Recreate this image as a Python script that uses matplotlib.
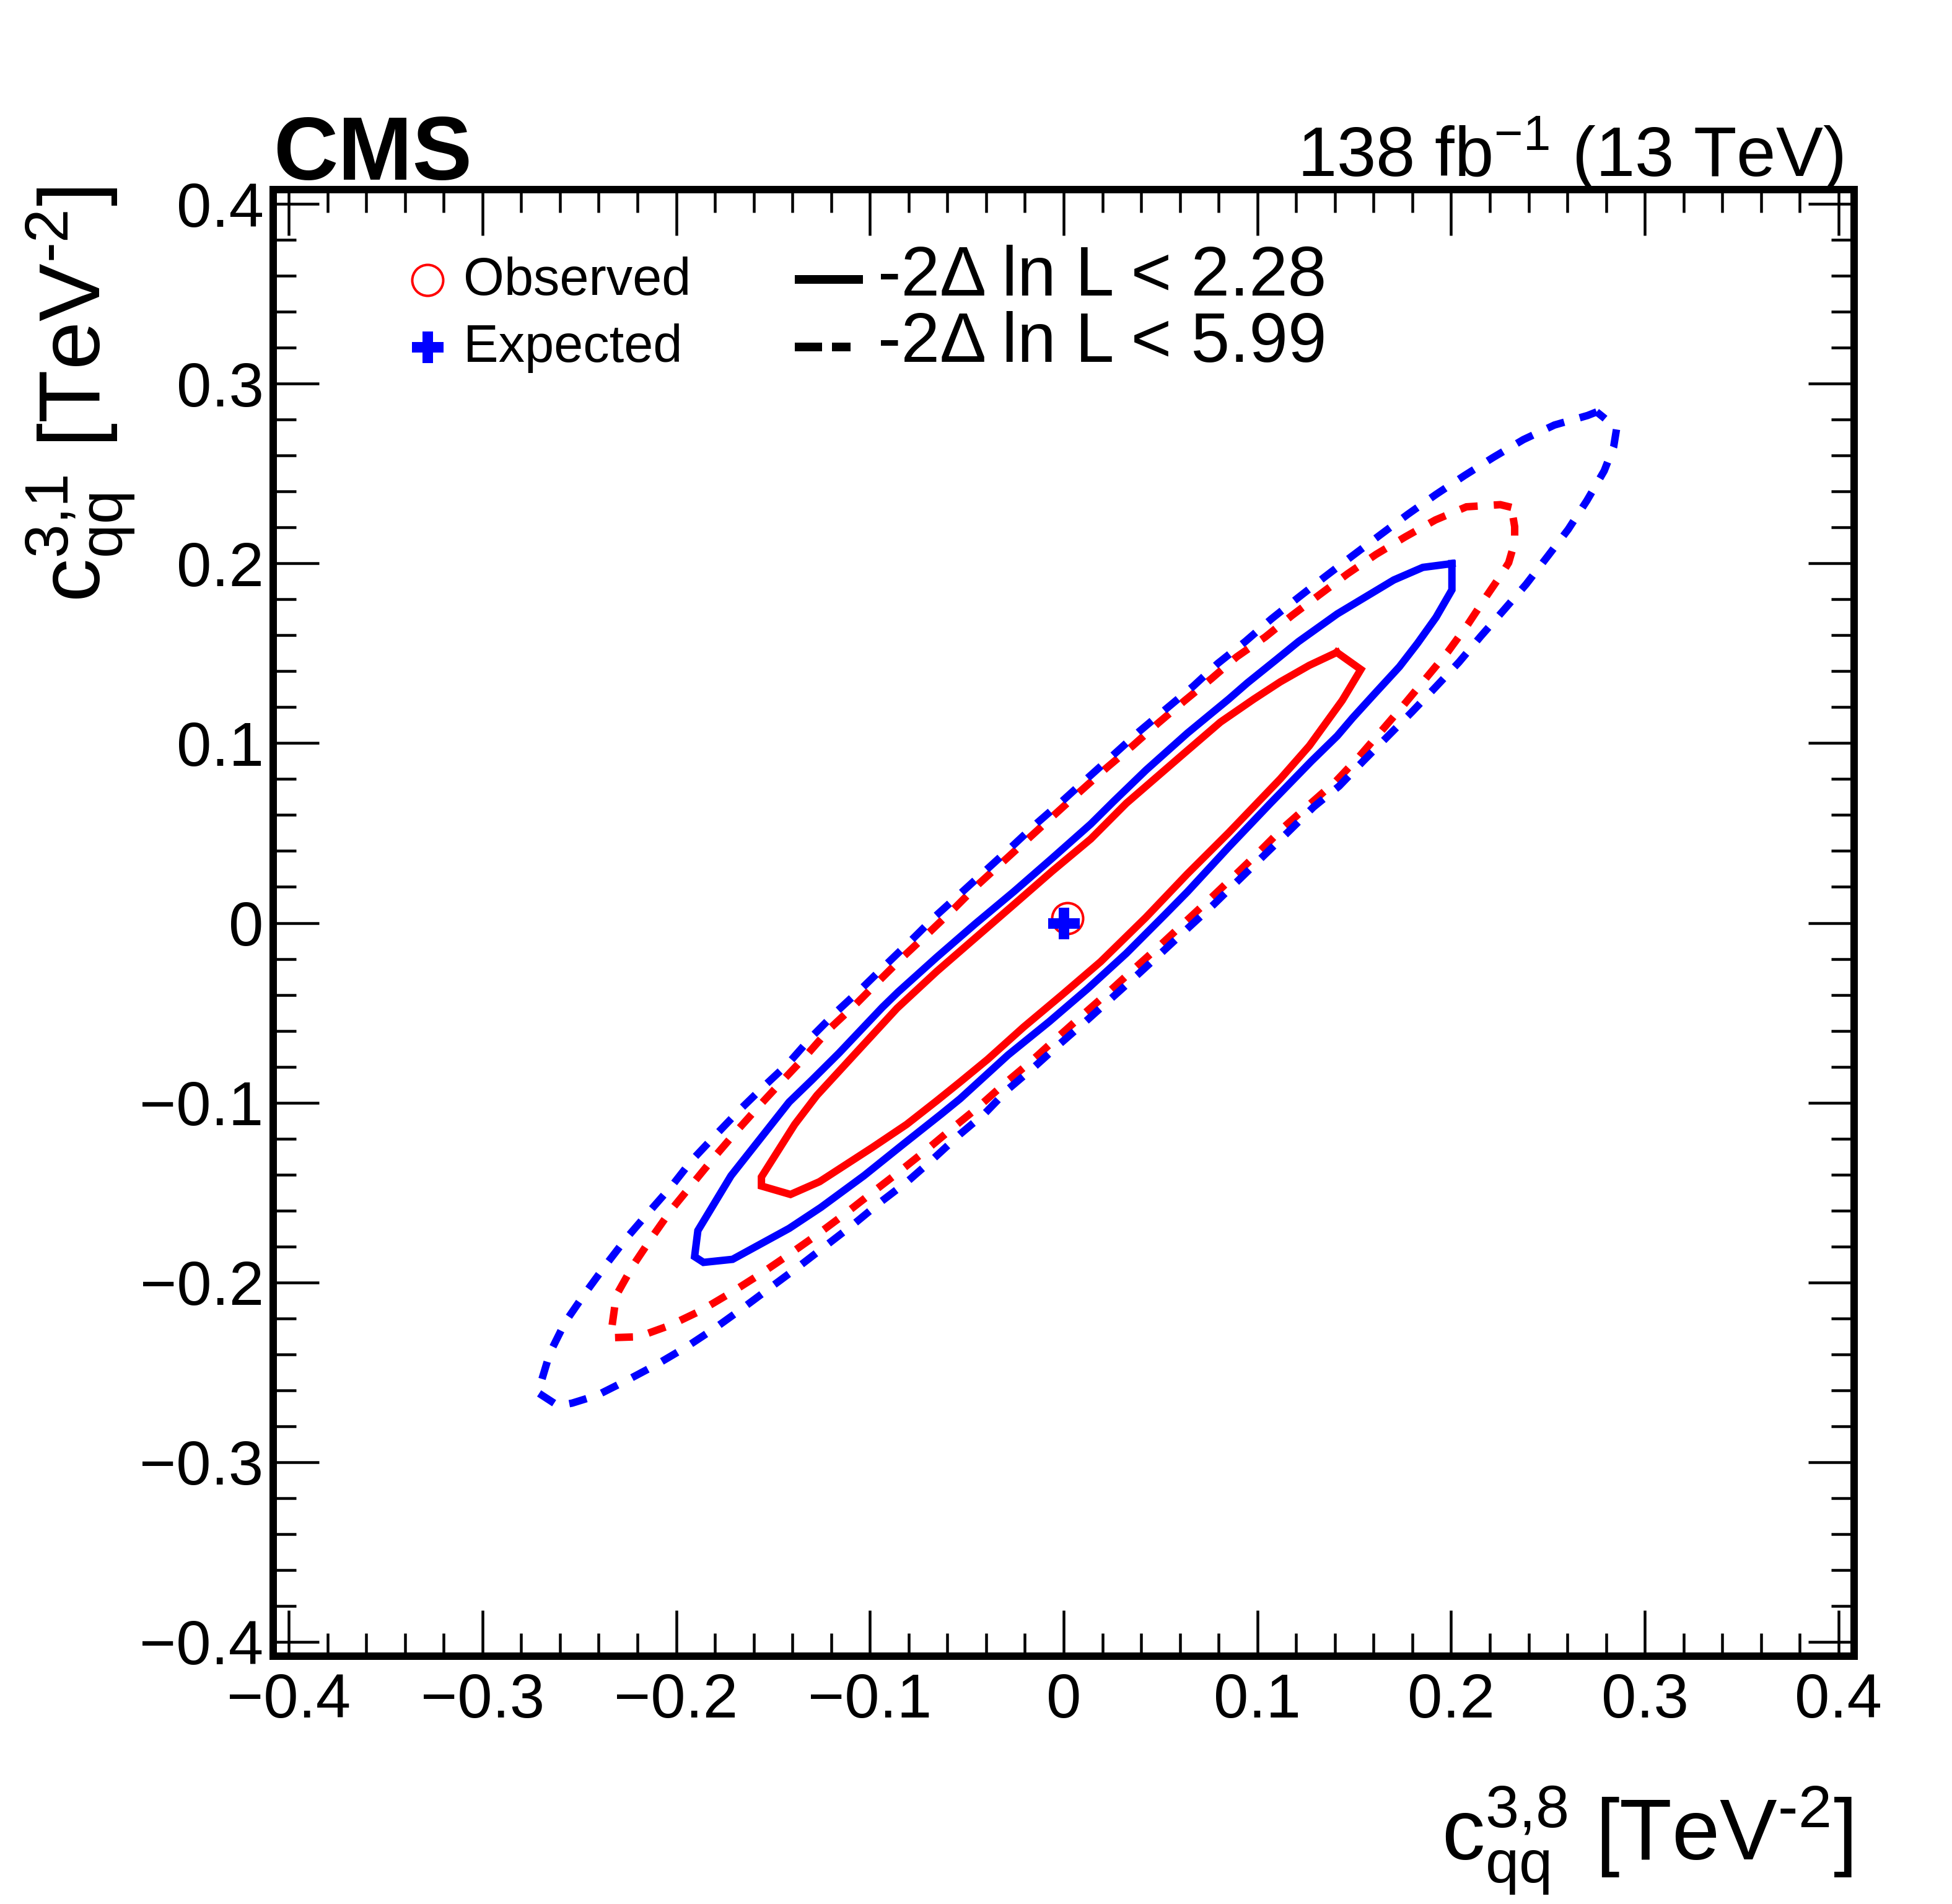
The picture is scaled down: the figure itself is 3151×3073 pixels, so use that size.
import matplotlib
matplotlib.use("Agg")
import matplotlib.pyplot as plt
from matplotlib.lines import Line2D
from matplotlib.ticker import MultipleLocator

plt.rcParams['font.family'] = ['Liberation Sans', 'DejaVu Sans']
plt.rcParams['mathtext.fontset'] = 'custom'
plt.rcParams['mathtext.rm'] = 'Liberation Sans'
plt.rcParams['mathtext.it'] = 'Liberation Sans:italic'
plt.rcParams['mathtext.bf'] = 'Liberation Sans:bold'
plt.rcParams['mathtext.sf'] = 'Liberation Sans'
plt.rcParams['lines.scale_dashes'] = False
plt.rcParams['axes.unicode_minus'] = True

# ---------------- data ----------------
# Observed, -2 dlnL < 2.28 (red solid)
obs68_x = [0.1410, 0.1268, 0.1118, 0.0980, 0.0809, 0.0617, 0.0425, 0.0323, 0.0140, -0.0059,
           -0.0257, -0.0456, -0.0655, -0.0860, -0.1065, -0.1274, -0.1388, -0.1560, -0.1560, -0.1410,
           -0.1260, -0.0988, -0.0810, -0.0655, -0.0534, -0.0393, -0.0207, -0.0008, 0.0191, 0.0425,
           0.0638, 0.0852, 0.1118, 0.1268, 0.1438, 0.1534]
obs68_y = [0.1505, 0.1433, 0.1341, 0.1244, 0.1117, 0.0939, 0.0760, 0.0665, 0.0467, 0.0288,
           0.0102, -0.0084, -0.0270, -0.0475, -0.0715, -0.0960, -0.1121, -0.1414, -0.1464, -0.1511,
           -0.1440, -0.1250, -0.1121, -0.0990, -0.0885, -0.0760, -0.0580, -0.0400, -0.0216, 0.0031,
           0.0272, 0.0502, 0.0801, 0.0985, 0.1238, 0.1410]

# Expected, -2 dlnL < 2.28 (blue solid)
exp68_x = [0.2004, 0.1854, 0.1704, 0.1412, 0.1212, 0.1098, 0.0948, 0.0852, 0.0638, 0.0425,
           0.0257, 0.0140, -0.0059, -0.0257, -0.0456, -0.0655, -0.0854, -0.0936, -0.1160, -0.1300,
           -0.1417, -0.1717, -0.1888, -0.1905, -0.1859, -0.1709, -0.1417, -0.1253, -0.1031, -0.0824,
           -0.0632, -0.0534, -0.0287, -0.0075, 0.0124, 0.0323, 0.0522, 0.0638, 0.0852, 0.1065,
           0.1278, 0.1412, 0.1491, 0.1605, 0.1733, 0.1826, 0.1922, 0.2004]
exp68_y = [0.1999, 0.1978, 0.1908, 0.1719, 0.1565, 0.1465, 0.1335, 0.1245, 0.1055, 0.0850,
           0.0675, 0.0550, 0.0360, 0.0174, -0.0005, -0.0191, -0.0384, -0.0470, -0.0725, -0.0875,
           -0.0997, -0.1407, -0.1712, -0.1857, -0.1889, -0.1872, -0.1700, -0.1583, -0.1407, -0.1228,
           -0.1064, -0.0978, -0.0735, -0.0550, -0.0366, -0.0170, 0.0045, 0.0172, 0.0422, 0.0663,
           0.0899, 0.1040, 0.1140, 0.1275, 0.1425, 0.1555, 0.1700, 0.1853]

# Observed, -2 dlnL < 5.99 (red dashed)
obs95_x = [0.2311, 0.2254, 0.2079, 0.1919, 0.1762, 0.1612, 0.1465, 0.1322, 0.1179, 0.1041,
           0.0893, 0.0763, 0.0625, 0.0486, 0.0356, 0.0223, 0.0087, -0.0043, -0.0176, -0.0303,
           -0.0436, -0.0563, -0.0693, -0.0823, -0.0949, -0.1074, -0.1204, -0.1332, -0.1445, -0.1562,
           -0.1681, -0.1795, -0.1909, -0.2023, -0.2123, -0.2223, -0.2309, -0.2333, -0.2333, -0.2195,
           -0.2031, -0.1874, -0.1716, -0.1567, -0.1424, -0.1274, -0.1131, -0.0996, -0.0853, -0.0717,
           -0.0582, -0.0443, -0.0310, -0.0175, -0.0043, 0.0090, 0.0226, 0.0359, 0.0492, 0.0624,
           0.0753, 0.0883, 0.1009, 0.1135, 0.1270, 0.1405, 0.1526, 0.1640, 0.1754, 0.1869,
           0.1983, 0.2087, 0.2183, 0.2261, 0.2297, 0.2328, 0.2328]
obs95_y = [0.2312, 0.2327, 0.2315, 0.2242, 0.2147, 0.2050, 0.1942, 0.1827, 0.1711, 0.1591,
           0.1480, 0.1359, 0.1237, 0.1110, 0.0985, 0.0864, 0.0733, 0.0606, 0.0475, 0.0350,
           0.0219, 0.0082, -0.0052, -0.0183, -0.0318, -0.0454, -0.0585, -0.0742, -0.0871, -0.1007,
           -0.1150, -0.1293, -0.1443, -0.1593, -0.1746, -0.1907, -0.2072, -0.2258, -0.2308, -0.2303,
           -0.2239, -0.2158, -0.2057, -0.1955, -0.1850, -0.1736, -0.1621, -0.1507, -0.1388, -0.1271,
           -0.1149, -0.1027, -0.0899, -0.0777, -0.0648, -0.0520, -0.0391, -0.0260, -0.0131, 0.0002,
           0.0131, 0.0264, 0.0395, 0.0531, 0.0660, 0.0788, 0.0926, 0.1068, 0.1211, 0.1360,
           0.1508, 0.1662, 0.1819, 0.1942, 0.2004, 0.2119, 0.2204]

# Expected, -2 dlnL < 5.99 (blue dashed)
exp95_x = [0.2751, 0.2704, 0.2533, 0.2373, 0.2216, 0.2069, 0.1922, 0.1776, 0.1633, 0.1490,
           0.1350, 0.1212, 0.1072, 0.0937, 0.0795, 0.0668, 0.0529, 0.0391, 0.0257, 0.0126,
           -0.0008, -0.0138, -0.0268, -0.0395, -0.0528, -0.0658, -0.0783, -0.0909, -0.1039, -0.1169,
           -0.1299, -0.1424, -0.1545, -0.1667, -0.1788, -0.1919, -0.2023, -0.2145, -0.2259, -0.2366,
           -0.2473, -0.2573, -0.2652, -0.2702, -0.2716, -0.2609, -0.2537, -0.2409, -0.2252, -0.2102,
           -0.1945, -0.1795, -0.1652, -0.1510, -0.1367, -0.1224, -0.1081, -0.0946, -0.0803, -0.0674,
           -0.0536, -0.0403, -0.0284, -0.0149, -0.0016, 0.0116, 0.0249, 0.0382, 0.0511, 0.0644,
           0.0774, 0.0903, 0.1028, 0.1155, 0.1290, 0.1422, 0.1545, 0.1669, 0.1797, 0.1919,
           0.2040, 0.2154, 0.2273, 0.2387, 0.2497, 0.2604, 0.2701, 0.2790, 0.2839, 0.2854,
           0.2787]
exp95_y = [0.2843, 0.2823, 0.2770, 0.2689, 0.2589, 0.2489, 0.2384, 0.2273, 0.2158, 0.2042,
           0.1927, 0.1811, 0.1691, 0.1565, 0.1443, 0.1316, 0.1191, 0.1066, 0.0935, 0.0808,
           0.0677, 0.0555, 0.0424, 0.0299, 0.0168, 0.0041, -0.0093, -0.0224, -0.0361, -0.0491,
           -0.0632, -0.0785, -0.0907, -0.1035, -0.1171, -0.1321, -0.1464, -0.1614, -0.1757, -0.1907,
           -0.2065, -0.2222, -0.2393, -0.2572, -0.2612, -0.2687, -0.2672, -0.2629, -0.2544, -0.2458,
           -0.2358, -0.2251, -0.2140, -0.2026, -0.1912, -0.1793, -0.1674, -0.1554, -0.1436, -0.1314,
           -0.1177, -0.1056, -0.0923, -0.0799, -0.0670, -0.0546, -0.0417, -0.0288, -0.0160, -0.0027,
           0.0102, 0.0238, 0.0369, 0.0502, 0.0645, 0.0761, 0.0899, 0.1034, 0.1173, 0.1311,
           0.1450, 0.1596, 0.1742, 0.1884, 0.2038, 0.2189, 0.2350, 0.2515, 0.2650, 0.2750,
           0.2812]

# best-fit points
obs_best = (0.0018, 0.0025)
exp_best = (0.0, 0.0)

# axes
x_ticks = [-0.4, -0.3, -0.2, -0.1, 0.0, 0.1, 0.2, 0.3, 0.4]
x_tick_labels = ["\u22120.4", "\u22120.3", "\u22120.2", "\u22120.1", "0", "0.1", "0.2", "0.3", "0.4"]
y_ticks = [-0.4, -0.3, -0.2, -0.1, 0.0, 0.1, 0.2, 0.3, 0.4]
y_tick_labels = ["\u22120.4", "\u22120.3", "\u22120.2", "\u22120.1", "0", "0.1", "0.2", "0.3", "0.4"]
x_range = (-0.408, 0.408)
y_range = (-0.408, 0.408)

legend_left = ["Observed", "Expected"]
legend_right = ["-2\u0394 ln L < 2.28", "-2\u0394 ln L < 5.99"]

# ---------------- figure ----------------
W, H = 3151, 3073
DPI = 100
fig = plt.figure(figsize=(W / DPI, H / DPI), dpi=DPI)


def fx(px):
    return px / W


def fy(py):
    return 1 - py / H


PT = 0.72  # points per pixel at 100 dpi
ax = fig.add_axes([fx(441), fy(2673), fx(2993) - fx(441), fy(306) - fy(2673)])

lw = 12 * PT
dash = (0, (29 * PT, 26 * PT))


def closed(xs, ys):
    return list(xs) + [xs[0]], list(ys) + [ys[0]]


for (xs, ys, col, ls) in [(obs95_x, obs95_y, 'red', dash),
                          (exp95_x, exp95_y, 'blue', dash),
                          (obs68_x, obs68_y, 'red', '-'),
                          (exp68_x, exp68_y, 'blue', '-')]:
    cx, cy = closed(xs, ys)
    ax.plot(cx, cy, color=col, lw=lw, linestyle=ls, solid_joinstyle='miter',
            dash_joinstyle='miter', dash_capstyle='butt')

ax.plot([obs_best[0]], [obs_best[1]], marker='o', ms=50 * PT, mfc='none', mec='red',
        mew=4 * PT, linestyle='none')
ax.plot([exp_best[0]], [exp_best[1]], marker='P', ms=51 * PT, color='blue',
        mec='blue', mew=0, linestyle='none')

ax.set_xlim(*x_range)
ax.set_ylim(*y_range)
ax.set_xticks(x_ticks)
ax.set_xticklabels(x_tick_labels)
ax.set_yticks(y_ticks)
ax.set_yticklabels(y_tick_labels)
ax.xaxis.set_minor_locator(MultipleLocator(0.02))
ax.yaxis.set_minor_locator(MultipleLocator(0.02))
ax.tick_params(which='both', direction='in', top=True, right=True, width=4.5 * PT, color='black')
ax.tick_params(which='major', length=74 * PT)
ax.tick_params(which='minor', length=37 * PT)
ax.tick_params(axis='x', which='major', labelsize=73, pad=19)
ax.tick_params(axis='y', which='major', labelsize=73, pad=11)
for s in ax.spines.values():
    s.set_linewidth(12 * PT)
    s.set_color('black')

# header texts
fig.text(fx(441), fy(290), "CMS", fontsize=104, fontweight='bold', ha='left', va='baseline')
fig.text(fx(2975), fy(285), r"138 fb$^{-1}$ (13 TeV)", fontsize=82, ha='right', va='baseline')

# axis titles
fig.text(fx(2990), fy(3002), r"$\mathrm{c}^{\mathrm{3{,}8}}_{\mathrm{qq}}$ [TeV$^{\text{-}2}$]",
         fontsize=100, ha='right', va='baseline')
fig.text(fx(162), fy(302), r"$\mathrm{c}^{\mathrm{3{,}1}}_{\mathrm{qq}}$ [TeV$^{\text{-}2}$]",
         fontsize=101, rotation=90, rotation_mode='anchor', ha='right', va='baseline')

# legend (left column)
fig.add_artist(Line2D([fx(690)], [fy(452)], marker='o', ms=50 * PT, mfc='none', mec='red',
                      mew=4 * PT, linestyle='none', transform=fig.transFigure))
fig.add_artist(Line2D([fx(690)], [fy(560)], marker='P', ms=51 * PT, color='blue', mew=0,
                      linestyle='none', transform=fig.transFigure))
fig.text(fx(748), fy(476), legend_left[0], fontsize=61, ha='left', va='baseline')
fig.text(fx(748), fy(584), legend_left[1], fontsize=61, ha='left', va='baseline')

# legend (right column)
fig.add_artist(Line2D([fx(1283), fx(1393)], [fy(451), fy(451)], color='black', lw=14 * PT,
                      solid_capstyle='butt', transform=fig.transFigure))
fig.add_artist(Line2D([fx(1283), fx(1393)], [fy(560), fy(560)], color='black', lw=14 * PT,
                      linestyle=(0, (44 * PT, 16 * PT, 30 * PT, 200 * PT)), dash_capstyle='butt',
                      transform=fig.transFigure))
fig.text(fx(1417), fy(477), legend_right[0], fontsize=81, ha='left', va='baseline')
fig.text(fx(1417), fy(584), legend_right[1], fontsize=81, ha='left', va='baseline')

fig.savefig("out.png", dpi=DPI)
